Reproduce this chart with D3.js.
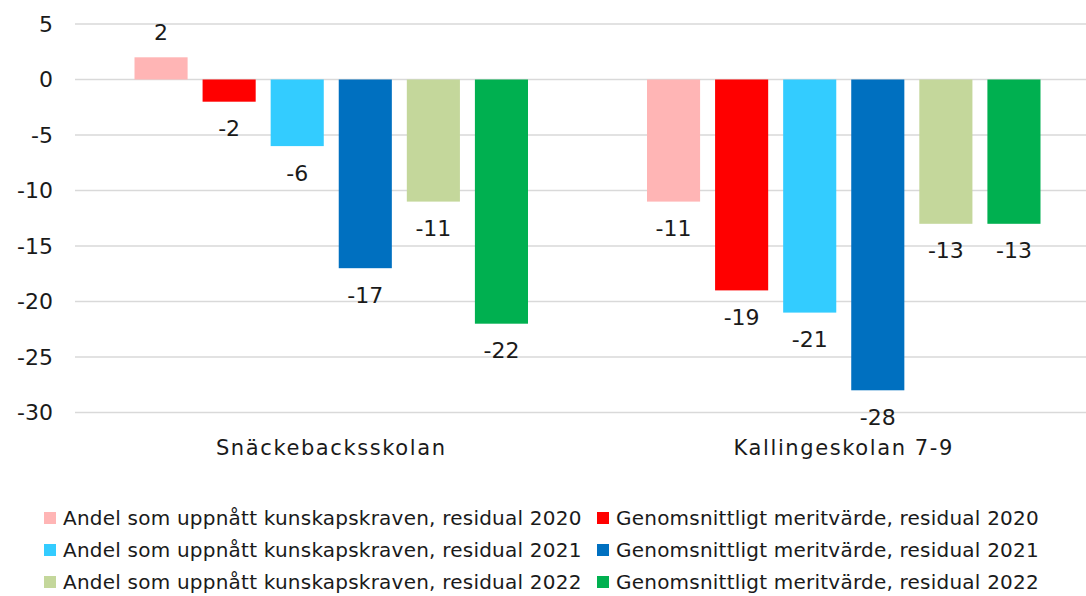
<!DOCTYPE html>
<html>
<head>
<meta charset="utf-8">
<script src="https://cdn.jsdelivr.net/npm/d3@7"></script>
<style>
  body { margin: 0; background: #fff; }
  svg { display: block; font-family: "DejaVu Sans", sans-serif; }
</style>
</head>
<body>
<div class="container"></div>
<script>
var categories = ["Snäckebacksskolan", "Kallingeskolan 7-9"];
var seriesNames = [
  "Andel som uppnått kunskapskraven, residual 2020",
  "Genomsnittligt meritvärde, residual 2020",
  "Andel som uppnått kunskapskraven, residual 2021",
  "Genomsnittligt meritvärde, residual 2021",
  "Andel som uppnått kunskapskraven, residual 2022",
  "Genomsnittligt meritvärde, residual 2022"
];
var colors = ["#FFB5B5", "#FF0000", "#33CCFF", "#0070C0", "#C4D79B", "#00B050"];
var snackeback = [2, -2, -6, -17, -11, -22];
var kallinge = [-11, -19, -21, -28, -13, -13];
var yTicks = [5, 0, -5, -10, -15, -20, -25, -30];

var values = [snackeback, kallinge];
var width = 1086, height = 596;
var textColor = '#1a1a1a';

var svg = d3.select('.container').append('svg').attr('width', width).attr('height', height);

var y = d3.scaleLinear().domain([-30, 5]).range([412.5, 24]);
var x0 = d3.scaleBand().domain(categories).range([75, 1100]);
var x1 = d3.scaleBand().domain(d3.range(seriesNames.length))
  .range([59.5, x0.bandwidth() - 59.5]).paddingInner(0.22);

// gridlines
svg.append('g').selectAll('line')
  .data(yTicks)
  .enter()
  .append('line')
  .attr('x1', 75).attr('x2', width)
  .attr('y1', function(d){ return y(d); })
  .attr('y2', function(d){ return y(d); })
  .attr('stroke', '#d9d9d9')
  .attr('stroke-width', 1.5);

// y axis labels (plain hyphen for minus, like the original)
var yAxis = d3.axisLeft(y).tickValues(yTicks).tickSize(0).tickPadding(0)
  .tickFormat(function(d){ return String(d); });
var ya = svg.append('g').attr('transform', 'translate(53,0)').call(yAxis);
ya.select('.domain').remove();
ya.selectAll('text')
  .attr('font-size', 22)
  .attr('font-family', '"DejaVu Sans", sans-serif')
  .attr('fill', textColor);

// bars
var groups = svg.append('g').selectAll('g')
  .data(categories)
  .enter()
  .append('g')
  .attr('transform', function(d){ return 'translate(' + x0(d) + ',0)'; });

function rows(d, i){
  return values[i].map(function(v, j){ return {v: v, s: j}; });
}

groups.selectAll('rect')
  .data(rows)
  .enter()
  .append('rect')
  .attr('x', function(d){ return x1(d.s); })
  .attr('width', x1.bandwidth())
  .attr('y', function(d){ return y(Math.max(0, d.v)); })
  .attr('height', function(d){ return Math.abs(y(d.v) - y(0)); })
  .attr('fill', function(d){ return colors[d.s]; });

groups.selectAll('text')
  .data(rows)
  .enter()
  .append('text')
  .attr('x', function(d){ return x1(d.s) + x1.bandwidth() / 2; })
  .attr('y', function(d){ return y(d.v) + (d.v < 0 ? 26.5 : -25); })
  .attr('dy', '0.36em')
  .attr('text-anchor', 'middle')
  .attr('font-size', 22)
  .attr('fill', textColor)
  .text(function(d){ return d.v; });

// category labels
var xAxis = d3.axisBottom(x0).tickSize(0).tickPadding(0);
var xa = svg.append('g').attr('transform', 'translate(0,447.5)').call(xAxis);
xa.select('.domain').remove();
xa.selectAll('text')
  .attr('dy', '0.36em')
  .attr('font-size', 21)
  .attr('letter-spacing', 1.6)
  .attr('font-family', '"DejaVu Sans", sans-serif')
  .attr('fill', textColor);

// legend
var legendX = [44, 597];
var legend = svg.append('g').selectAll('g')
  .data(seriesNames)
  .enter()
  .append('g')
  .attr('transform', function(d, i){
    return 'translate(' + legendX[i % 2] + ',' + (518 + Math.floor(i / 2) * 32) + ')';
  });
legend.append('rect')
  .attr('x', 0).attr('y', -6).attr('width', 12).attr('height', 12)
  .attr('fill', function(d, i){ return colors[i]; });
legend.append('text')
  .attr('x', 19).attr('dy', '0.36em')
  .attr('font-size', 20)
  .attr('letter-spacing', 0.22)
  .attr('fill', textColor)
  .text(function(d){ return d; });
</script>
</body>
</html>
